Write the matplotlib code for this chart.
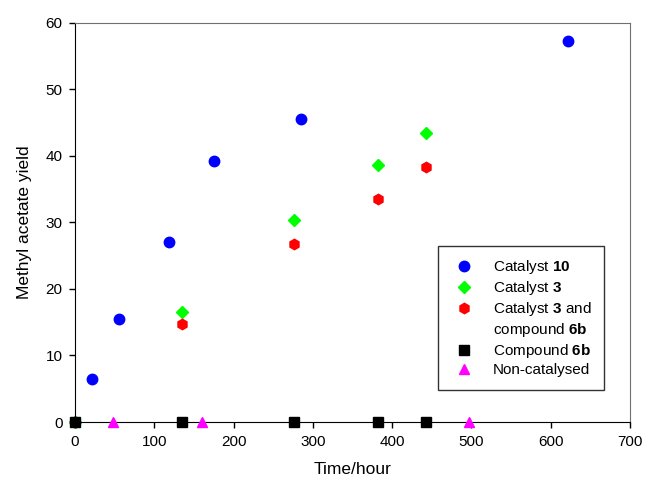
import matplotlib
matplotlib.use("Agg")
import matplotlib.pyplot as plt
from matplotlib.lines import Line2D

plt.rcParams['font.family'] = ['Liberation Sans', 'DejaVu Sans']
plt.rcParams['mathtext.fontset'] = 'custom'
plt.rcParams['mathtext.rm'] = 'Liberation Sans'
plt.rcParams['mathtext.bf'] = 'Liberation Sans:bold'

# Data
cat10_t = [0, 22, 56, 118, 175, 285, 622]
cat10_y = [0, 6.4, 15.5, 27.1, 39.2, 45.6, 57.2]

cat3_t = [0, 135, 276, 382, 443]
cat3_y = [0, 16.5, 30.3, 38.6, 43.4]

cat3_6b_t = [0, 135, 276, 382, 443]
cat3_6b_y = [0, 14.7, 26.8, 33.5, 38.3]

cmp6b_t = [0, 135, 276, 382, 443]
cmp6b_y = [0, 0, 0, 0, 0]

noncat_t = [48, 160, 497]
noncat_y = [0, 0, 0]

labels = ["Catalyst $\\mathbf{10}$",
          "Catalyst $\\mathbf{3}$",
          "Catalyst $\\mathbf{3}$ and",
          "compound $\\mathbf{6b}$",
          "Compound $\\mathbf{6b}$",
          "Non-catalysed"]

fig = plt.figure(figsize=(6.45, 4.84), dpi=100)
ax = fig.add_axes([0.1163, 0.128, 0.8604, 0.825])

h1, = ax.plot(cat10_t, cat10_y, 'o', color='#0000FF', markersize=7.5, clip_on=False)
h2, = ax.plot(cat3_t, cat3_y, 'D', color='#00FF00', markersize=6.3, clip_on=False)
h3, = ax.plot(cat3_6b_t, cat3_6b_y, 'h', color='#FF0000', markersize=7.5, clip_on=False)
h4, = ax.plot(cmp6b_t, cmp6b_y, 's', color='#000000', markersize=6.5, clip_on=False, zorder=4)
h5, = ax.plot(noncat_t, noncat_y, '^', color='#FF00FF', markersize=7.5, clip_on=False, zorder=4)
blank = Line2D([], [], linestyle='none', marker='')

ax.set_xlim(0, 700)
ax.set_ylim(0, 60)
ax.set_xticks(range(0, 701, 100))
ax.set_yticks(range(0, 61, 10))
ax.tick_params(direction='out', length=4, width=1, labelsize=11, pad=5)

ax.spines['left'].set_color('black')
ax.spines['bottom'].set_color('black')
ax.spines['top'].set_color('#707070')
ax.spines['right'].set_color('#707070')

ax.set_xlabel('Time/hour', fontsize=12.5, labelpad=10)
ax.set_ylabel('Methyl acetate yield', fontsize=12.5, labelpad=10)

leg = ax.legend([h1, h2, h3, blank, h4, h5], labels,
                loc='upper left', bbox_to_anchor=(0.654, 0.441), frameon=True, fancybox=False,
                edgecolor='black', fontsize=11, handletextpad=1.0, labelspacing=0.2,
                borderpad=0.8, handlelength=1.8, borderaxespad=0, numpoints=1)
leg.get_frame().set_linewidth(1.0)

fig.savefig('out.png', dpi=100)
